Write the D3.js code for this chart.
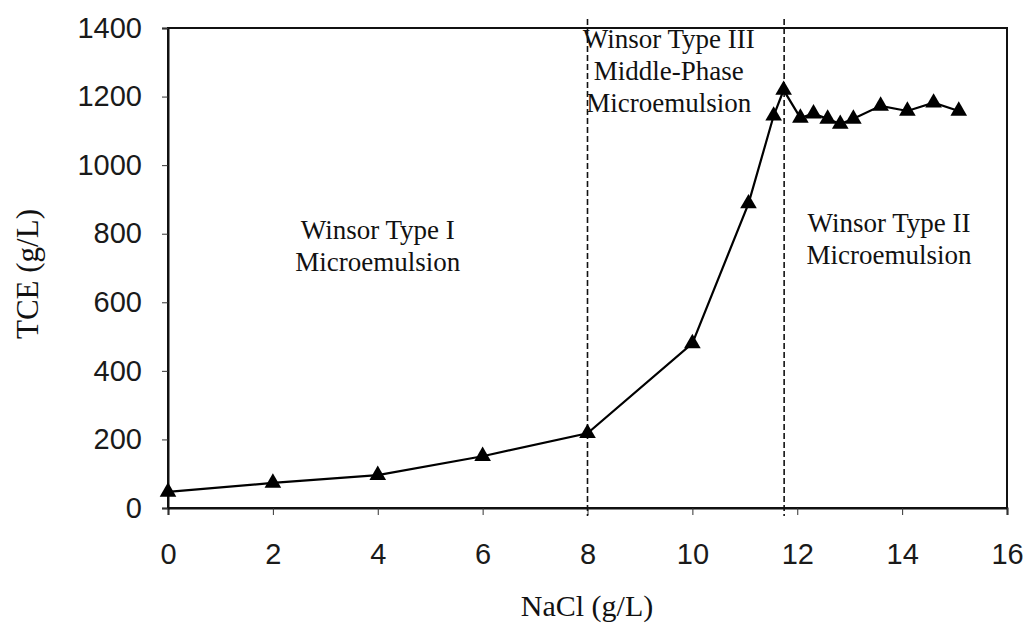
<!DOCTYPE html>
<html>
<head>
<meta charset="utf-8">
<script src="https://cdn.jsdelivr.net/npm/d3@7"></script>
<style>
  html, body { margin: 0; padding: 0; background: #fff; }
  svg { display: block; }
</style>
</head>
<body>
<svg id="chart" width="1029" height="633"></svg>
<script>
// NaCl concentration (g/L) and solubilized TCE (g/L)
const nacl = [0, 2, 4, 6, 8, 10, 11.07, 11.55, 11.74, 12.06, 12.31, 12.58, 12.82, 13.07, 13.59, 14.1, 14.6, 15.08];
const tce  = [47, 73, 96, 151, 218, 480, 888, 1144, 1219, 1138, 1150, 1135, 1120, 1135, 1173, 1158, 1182, 1158];

const xTicks = [0, 2, 4, 6, 8, 10, 12, 14, 16];
const yTicks = [0, 200, 400, 600, 800, 1000, 1200, 1400];

// Phase boundaries (g/L NaCl)
const boundaries = [8, 11.75];

// Phase labels: x, y in data units, text lines
const phaseLabels = [
  { x: 4.0, y: 785, lines: ["Winsor Type I", "Microemulsion"] },
  { x: 9.55, y: 1342, lines: ["Winsor Type III", "Middle-Phase", "Microemulsion"] },
  { x: 13.75, y: 805, lines: ["Winsor Type II", "Microemulsion"] }
];

const margin = { left: 168, right: 22, top: 28, bottom: 125 };
const W = 1029, H = 633;

const svg = d3.select("#chart");

const x = d3.scaleLinear().domain([0, 16]).range([margin.left, W - margin.right]);
const y = d3.scaleLinear().domain([0, 1400]).range([H - margin.bottom, margin.top]);

const sansFont = "'Liberation Sans', Arial, sans-serif";
const serifFont = "'Liberation Serif', 'Times New Roman', serif";

// Frame
svg.append("rect")
  .attr("x", x(0)).attr("y", y(1400))
  .attr("width", x(16) - x(0)).attr("height", y(0) - y(1400))
  .attr("fill", "none").attr("stroke", "#111").attr("stroke-width", 2);

// Axes
const xAxis = d3.axisBottom(x).tickValues(xTicks).tickSize(7).tickPadding(28).tickFormat(d3.format("d"));
const yAxis = d3.axisLeft(y).tickValues(yTicks).tickSize(6).tickPadding(20).tickFormat(d3.format("d"));

const gx = svg.append("g").attr("transform", `translate(0,${y(0)})`).call(xAxis);
const gy = svg.append("g").attr("transform", `translate(${x(0)},0)`).call(yAxis);

[gx, gy].forEach(g => {
  g.select(".domain").attr("stroke", "#111").attr("stroke-width", 2);
  g.selectAll(".tick line").attr("stroke", "#333").attr("stroke-width", 1);
  g.selectAll(".tick text")
    .attr("fill", "#1a1a1a")
    .style("font-family", sansFont)
    .style("font-size", "29px");
});

// Phase boundary lines
svg.append("g").selectAll("line").data(boundaries).join("line")
  .attr("x1", d => x(d)).attr("x2", d => x(d))
  .attr("y1", y(1400) - 9).attr("y2", y(0) + 8)
  .attr("stroke", "#111").attr("stroke-width", 1.6)
  .attr("stroke-dasharray", "6,3");

// Data line
const pts = nacl.map((v, i) => [v, tce[i]]);
svg.append("path")
  .datum(pts)
  .attr("fill", "none").attr("stroke", "#000").attr("stroke-width", 2.2)
  .attr("d", d3.line().x(d => x(d[0])).y(d => y(d[1])));

// Triangle markers
const tri = d3.symbol().type(d3.symbolTriangle).size(120);
svg.append("g").selectAll("path").data(pts).join("path")
  .attr("d", tri)
  .attr("transform", d => `translate(${x(d[0])},${y(d[1])})`)
  .attr("fill", "#000");

// Phase labels
const lh = 32;
phaseLabels.forEach(p => {
  const t = svg.append("text")
    .attr("text-anchor", "middle")
    .style("font-family", serifFont)
    .style("font-size", "27px")
    .attr("fill", "#111");
  p.lines.forEach((line, i) => {
    t.append("tspan").attr("x", x(p.x)).attr("y", y(p.y) + i * lh).text(line);
  });
});

// Axis titles
svg.append("text")
  .attr("x", 587).attr("y", 616)
  .attr("text-anchor", "middle")
  .style("font-family", serifFont).style("font-size", "30px").attr("fill", "#111")
  .text("NaCl (g/L)");

svg.append("text")
  .attr("transform", `translate(38,274) rotate(-90)`)
  .attr("text-anchor", "middle")
  .style("font-family", serifFont).style("font-size", "31px").attr("fill", "#111")
  .text("TCE (g/L)");
</script>
</body>
</html>
